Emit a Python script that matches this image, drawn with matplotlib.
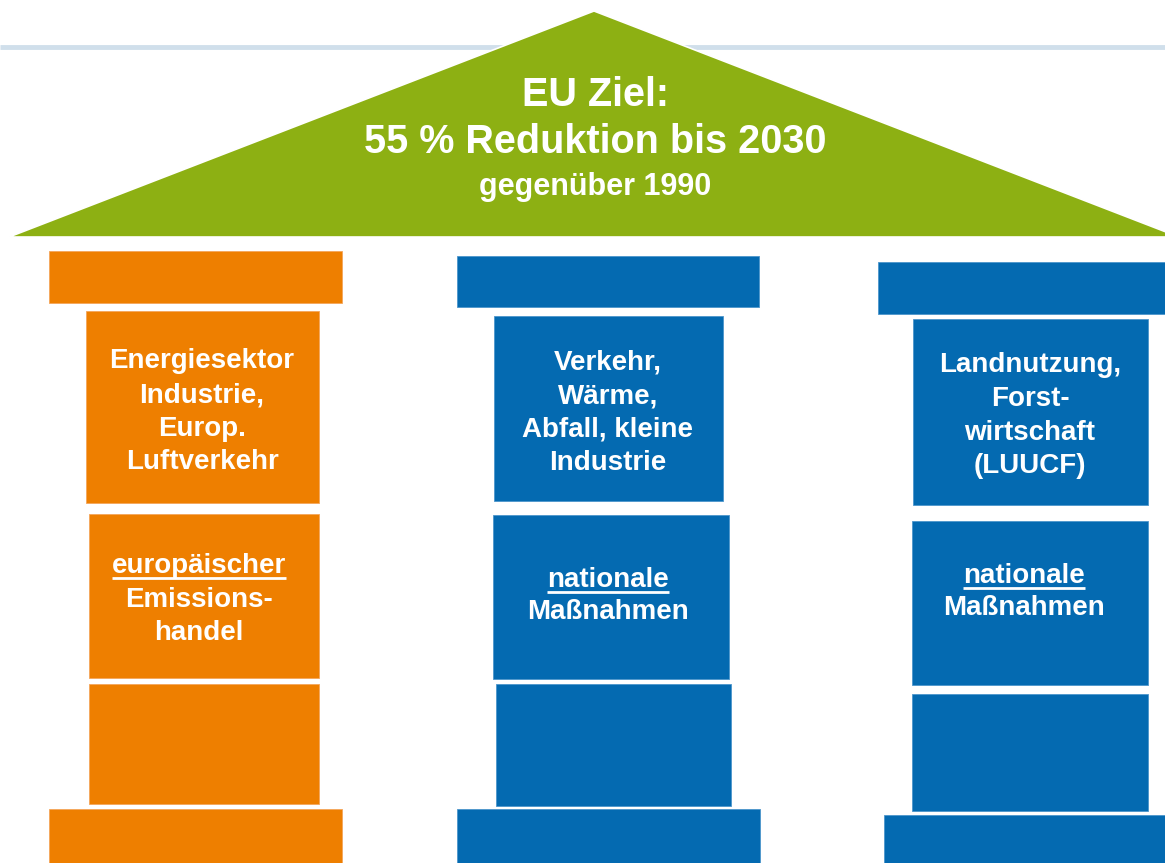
import matplotlib
matplotlib.use("Agg")
import matplotlib.pyplot as plt
from matplotlib.patches import Polygon, Rectangle

plt.rcParams["font.family"] = ["Liberation Sans", "DejaVu Sans"]

# Inhalte
roof_lines = ["EU Ziel:", "55 % Reduktion bis 2030", "gegenüber 1990"]
pillar_sectors = [
    ["Energiesektor", "Industrie,", "Europ.", "Luftverkehr"],
    ["Verkehr,", "Wärme,", "Abfall, kleine", "Industrie"],
    ["Landnutzung,", "Forst-", "wirtschaft", "(LUUCF)"],
]
pillar_instruments = [
    ["europäischer", "Emissions-", "handel"],
    ["nationale", "Maßnahmen"],
    ["nationale", "Maßnahmen"],
]
pillar_colors = ["#EE7F00", "#046AB1", "#046AB1"]

ORANGE_EDGE = "#F4A65A"
BLUE_EDGE = "#4C95CC"
GREEN = "#8DB013"

# Geometrie (Pixel, y nach unten)
# je Saeule: Kapitell, Schaft oben, Schaft mitte, Schaft unten, Sockel  -> (x0, x1, y0, y1)
pillar_blocks = [
    [(49, 342, 251, 303), (86, 319, 311, 503), (89, 319, 514, 678),
     (89, 319, 684, 804), (49, 342, 809, 863)],
    [(457, 759, 256, 307), (494, 723, 316, 501), (493, 729, 515, 679),
     (496, 731, 684, 806), (457, 760, 809, 863)],
    [(878, 1170, 262, 314), (913, 1148, 319, 505), (912, 1148, 521, 685),
     (912, 1148, 694, 811), (884, 1170, 815, 863)],
]
sector_text_x = [202, 608, 1030]
sector_baselines = [[368, 402, 436, 469], [369, 403, 436, 470], [372, 406, 440, 473]]
instr_text_x = [199, 608, 1024]
instr_baselines = [[573, 607, 640], [587, 619], [583, 615]]

fig = plt.figure(figsize=(11.65, 8.63), dpi=100)
ax = fig.add_axes([0, 0, 1, 1])
ax.set_xlim(0, 1165)
ax.set_ylim(863, 0)
ax.axis("off")

# duenne Linie hinter dem Dach
ax.plot([0, 1165], [47, 47], color="#D0DFEB", linewidth=3.5, zorder=1,
        solid_capstyle="butt")

# Dach
roof = Polygon([(9, 237), (594, 11), (1179, 237)], closed=True,
               facecolor=GREEN, edgecolor="white", linewidth=1.2, zorder=2)
ax.add_patch(roof)
roof_sizes = [28.5, 28.5, 22]
roof_baselines = [106, 153, 195]
for txt, fs, yb in zip(roof_lines, roof_sizes, roof_baselines):
    ax.text(595, yb, txt, ha="center", va="baseline", fontsize=fs,
            fontweight="bold", color="white", zorder=3)

# Saeulen
for i, blocks in enumerate(pillar_blocks):
    col = pillar_colors[i]
    edge = ORANGE_EDGE if i == 0 else BLUE_EDGE
    for (x0, x1, y0, y1) in blocks:
        ax.add_patch(Rectangle((x0, y0), x1 - x0, y1 - y0, facecolor=col,
                               edgecolor=edge, linewidth=0.6, zorder=2))
    for txt, yb in zip(pillar_sectors[i], sector_baselines[i]):
        ax.text(sector_text_x[i], yb, txt, ha="center", va="baseline",
                fontsize=20, fontweight="bold", color="white", zorder=3)

underlined = []
for i in range(len(pillar_instruments)):
    for j, (txt, yb) in enumerate(zip(pillar_instruments[i], instr_baselines[i])):
        t = ax.text(instr_text_x[i], yb, txt, ha="center", va="baseline",
                    fontsize=20, fontweight="bold", color="white", zorder=3)
        if j == 0:
            underlined.append((t, yb))

# Unterstreichungen
fig.canvas.draw()
renderer = fig.canvas.get_renderer()
inv = ax.transData.inverted()
for t, yb in underlined:
    bb = t.get_window_extent(renderer)
    (xa, _), (xb, _) = inv.transform([(bb.x0, bb.y0), (bb.x1, bb.y1)])
    ax.plot([xa, xb], [yb + 4.5, yb + 4.5], color="white", linewidth=2,
            solid_capstyle="butt", zorder=3)

fig.savefig("out.png", dpi=100)
